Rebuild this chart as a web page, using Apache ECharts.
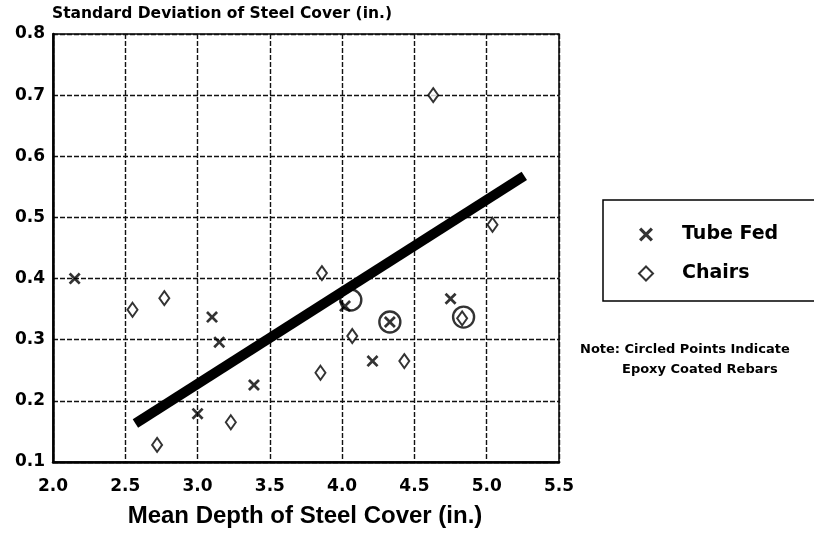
<!DOCTYPE html>
<html lang="en">
<head>
    <meta charset="UTF-8">
    <title>Steel Cover</title>
    <script src="https://cdn.jsdelivr.net/npm/echarts@6/dist/echarts.min.js"></script>
</head>
<body style="margin:0;background:#fff">
    <div id="chart" style="width:814px;height:537px;"></div>
<script type="text/javascript">
    // data
    var tubeX = [2.15, 3.10, 3.15, 3.39, 3.00, 4.02, 4.21, 4.33, 4.75];
    var tubeY = [0.40, 0.337, 0.296, 0.226, 0.179, 0.355, 0.265, 0.329, 0.367];
    var chairX = [2.55, 2.77, 2.72, 3.23, 3.86, 3.85, 4.07, 4.43, 4.83, 5.04, 4.63];
    var chairY = [0.349, 0.368, 0.128, 0.165, 0.409, 0.246, 0.306, 0.265, 0.335, 0.488, 0.70];
    // circled points (epoxy coated)
    var circX = [4.06, 4.33, 4.84];
    var circY = [0.365, 0.329, 0.337];
    // fitted line end points
    var fitX = [2.57, 5.26];
    var fitY = [0.163, 0.568];
    var xTicks = ['2.0', '2.5', '3.0', '3.5', '4.0', '4.5', '5.0', '5.5'];
    var yTicks = ['0.1', '0.2', '0.3', '0.4', '0.5', '0.6', '0.7', '0.8'];

    function pairs(xs, ys) {
        return xs.map(function (x, i) { return [x, ys[i]]; });
    }

    var crossPath = 'path://M0,1.6L1.6,0L5,3.4L8.4,0L10,1.6L6.6,5L10,8.4L8.4,10L5,6.6L1.6,10L0,8.4L3.4,5Z';
    var gridStyle = { color: '#111', width: 1.4, type: [5, 2] };
    var noteStyle = { fontFamily: 'DejaVu Sans', fontWeight: 'bold', fontSize: 13, color: '#000' };

    var chart = echarts.init(document.getElementById('chart'));
    chart.setOption({
        animation: false,
        backgroundColor: '#fff',
        title: [{
            text: 'Standard Deviation of Steel Cover (in.)',
            left: 52, top: 6, padding: 0,
            textStyle: { fontFamily: 'DejaVu Sans', fontWeight: 'bold', fontSize: 15.5, color: '#000' }
        }, {
            text: 'Note: Circled Points Indicate',
            left: 580, top: 343, padding: 0,
            textStyle: noteStyle
        }, {
            text: 'Epoxy Coated Rebars',
            left: 622, top: 363, padding: 0,
            textStyle: noteStyle
        }],
        legend: {
            orient: 'vertical',
            left: 603, top: 200,
            padding: [25, 60, 18, 35],
            itemWidth: 14, itemHeight: 14, itemGap: 20,
            borderColor: '#000', borderWidth: 1.5,
            data: ['Tube Fed', 'Chairs'],
            textStyle: { fontFamily: 'DejaVu Sans', fontWeight: 'bold', fontSize: 19, color: '#000', padding: [0, 0, 0, 24] }
        },
        grid: {
            left: 53, right: 255, top: 34, bottom: 75,
            show: true, borderColor: '#000', borderWidth: 1.5
        },
        xAxis: {
            type: 'value', min: 2.0, max: 5.5, interval: 0.5,
            axisLine: { lineStyle: { color: '#000', width: 2.5 } },
            axisTick: { show: false },
            splitLine: { lineStyle: gridStyle },
            axisLabel: {
                margin: 16, color: '#000', fontFamily: 'DejaVu Sans', fontWeight: 'bold', fontSize: 17,
                formatter: function (v) { return xTicks[Math.round((v - 2.0) / 0.5)]; }
            },
            name: 'Mean Depth of Steel Cover (in.)',
            nameLocation: 'middle', nameGap: 42,
            nameTextStyle: { fontFamily: 'Liberation Sans', fontWeight: 'bold', fontSize: 24, color: '#000', padding: [0, 0, 0, -2] }
        },
        yAxis: {
            type: 'value', min: 0.1, max: 0.8, interval: 0.1,
            axisLine: { show: true, lineStyle: { color: '#000', width: 2.5 } },
            axisTick: { show: false },
            splitLine: { lineStyle: gridStyle },
            axisLabel: {
                margin: 8, color: '#000', fontFamily: 'DejaVu Sans', fontWeight: 'bold', fontSize: 17,
                formatter: function (v) { return yTicks[Math.round((v - 0.1) / 0.1)]; }
            }
        },
        series: [{
            type: 'line',
            data: pairs(fitX, fitY),
            symbol: 'none',
            lineStyle: { color: '#000', width: 10, cap: 'butt' },
            z: 3,
            silent: true
        }, {
            name: 'Tube Fed',
            type: 'scatter',
            data: pairs(tubeX, tubeY),
            symbol: crossPath,
            symbolSize: 12,
            itemStyle: { color: '#000' },
            z: 4
        }, {
            name: 'Chairs',
            type: 'scatter',
            data: pairs(chairX, chairY),
            symbol: 'diamond',
            symbolSize: [10, 14],
            itemStyle: { color: '#fff', borderColor: '#000', borderWidth: 2 },
            z: 4
        }, {
            type: 'scatter',
            data: pairs(circX, circY),
            symbol: 'circle',
            symbolSize: 21,
            itemStyle: { color: 'rgba(0,0,0,0)', borderColor: '#000', borderWidth: 2.4 },
            z: 5
        }]
    });
</script>
</body>
</html>
